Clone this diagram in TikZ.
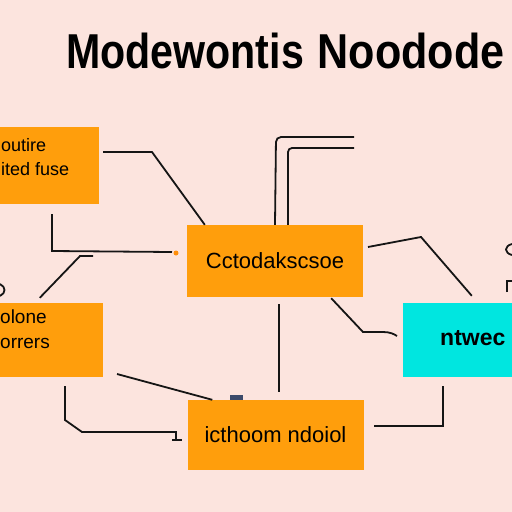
\documentclass[tikz,border=0pt]{standalone}
\usepackage{fontspec}
\setmainfont{Liberation Sans}
\definecolor{bgpink}{HTML}{FCE4DE}
\definecolor{boxorange}{HTML}{FF9E0C}
\definecolor{boxcyan}{HTML}{00E6E0}
\definecolor{linecol}{HTML}{151515}
\definecolor{dashcol}{HTML}{3C4A6A}
\begin{document}
\begin{tikzpicture}[x=1pt,y=-1pt,box/.style={shape=rectangle,fill=boxorange,inner sep=0pt},boxC/.style={box,fill=boxcyan},txt/.style={font=\fontsize{18}{24}\selectfont,align=left,anchor=west,inner sep=0pt},txtB/.style={font=\fontsize{22}{26}\selectfont,inner sep=0pt},link/.style={draw=linecol,line width=1.8pt}]
\def\bw{176pt};
\def\bh{72pt};

\fill[bgpink] (0,0) rectangle (512,512);
\useasboundingbox (0,0) rectangle (512,512);

\node[anchor=base west,inner sep=0pt] (ttl) at (66,68) {\fontsize{49}{49}\selectfont\bfseries\scalebox{0.84}[1]{Modewontis} \scalebox{0.88}[1]{Noodode}};

\node[box,minimum width=99pt,minimum height=77pt] (tl) at (49.5,165.5) {};
\node[txt] (tlt) at (1,157) {outire\\ited fuse};
\node[box,minimum width=103pt,minimum height=74pt] (ml) at (51.5,340) {};
\node[txt,font=\fontsize{19}{25}\selectfont] (mlt) at (0,329) {olone\\orrers};
\node[box,minimum width=\bw,minimum height=\bh,txtB] (cb) at (275,261) {Cctodakscsoe};
\node[box,minimum width=\bw,minimum height=70pt,txtB] (bt) at (275.5,435) {icthoom ndoiol};
\node[boxC,minimum width=150pt,minimum height=74pt] (cy) at (478,340) {};
\node[txt,font=\fontsize{23}{27}\selectfont\bfseries] (cyt) at (440,338) {ntwec};

\coordinate (a1) at (103,152);
\coordinate (a2) at (152,152);
\draw[link] (a1) -- (a2) -- ([xshift=18pt]cb.north west);

\coordinate (b1) at (52,214);
\coordinate (b2) at (52,251);
\coordinate (b3) at (172,252);
\draw[link] (b1) -- (b2) -- (b3);
\fill[boxorange!90!red] (176,253) circle (2.5);

\coordinate (c1) at (93,256);
\coordinate (c2) at (80,256);
\draw[link] (c1) -- (c2) -- ([xshift=40pt,yshift=5pt]ml.north west);

\coordinate (d1) at (354,137);
\coordinate (d2) at (354,148);
\draw[link,rounded corners=5pt] (cb.north) -- (276,137) -- (d1);
\draw[link,rounded corners=4pt] ([xshift=13pt]cb.north) -- (288,148) -- (d2);

\coordinate (e1) at (368,247);
\coordinate (e2) at (421,237);
\draw[link] (e1) -- (e2) -- ([xshift=69pt,yshift=7pt]cy.north west);

\coordinate (f1) at (512,244);
\draw[link] (f1) .. controls (504,246) and (504,253) .. (512,255);
\coordinate (f2) at (507,292);
\draw[link] (f2) -- (507,281) -- (512,281);

\coordinate (g2) at (363,332);
\draw[link] ([xshift=-32pt,yshift=-1pt]cb.south east) -- (g2) -- (383,332) .. controls (390,332) and (394,334) .. (397,336);

\coordinate (h1) at (279,304);
\coordinate (h2) at (279,392);
\draw[link] (h1) -- (h2);

\coordinate (i1) at (117,374);
\draw[link] (i1) -- ([xshift=25pt]bt.north west);
\fill[dashcol] (230,395) rectangle (243,399.5);

\coordinate (j1) at (65,386);
\coordinate (j4) at (176,440);
\draw[link] (j1) -- (65,420) -- (82,432) -- (176,432) -- (j4);
\draw[link] (172,440) -- (182,440);

\coordinate (k1) at (374,426);
\coordinate (k3) at (443,386);
\draw[link] (k1) -- (443,426) -- (k3);

\draw[link] (0,284) .. controls (6,287) and (6,293) .. (0,296);
\end{tikzpicture}
\end{document}
